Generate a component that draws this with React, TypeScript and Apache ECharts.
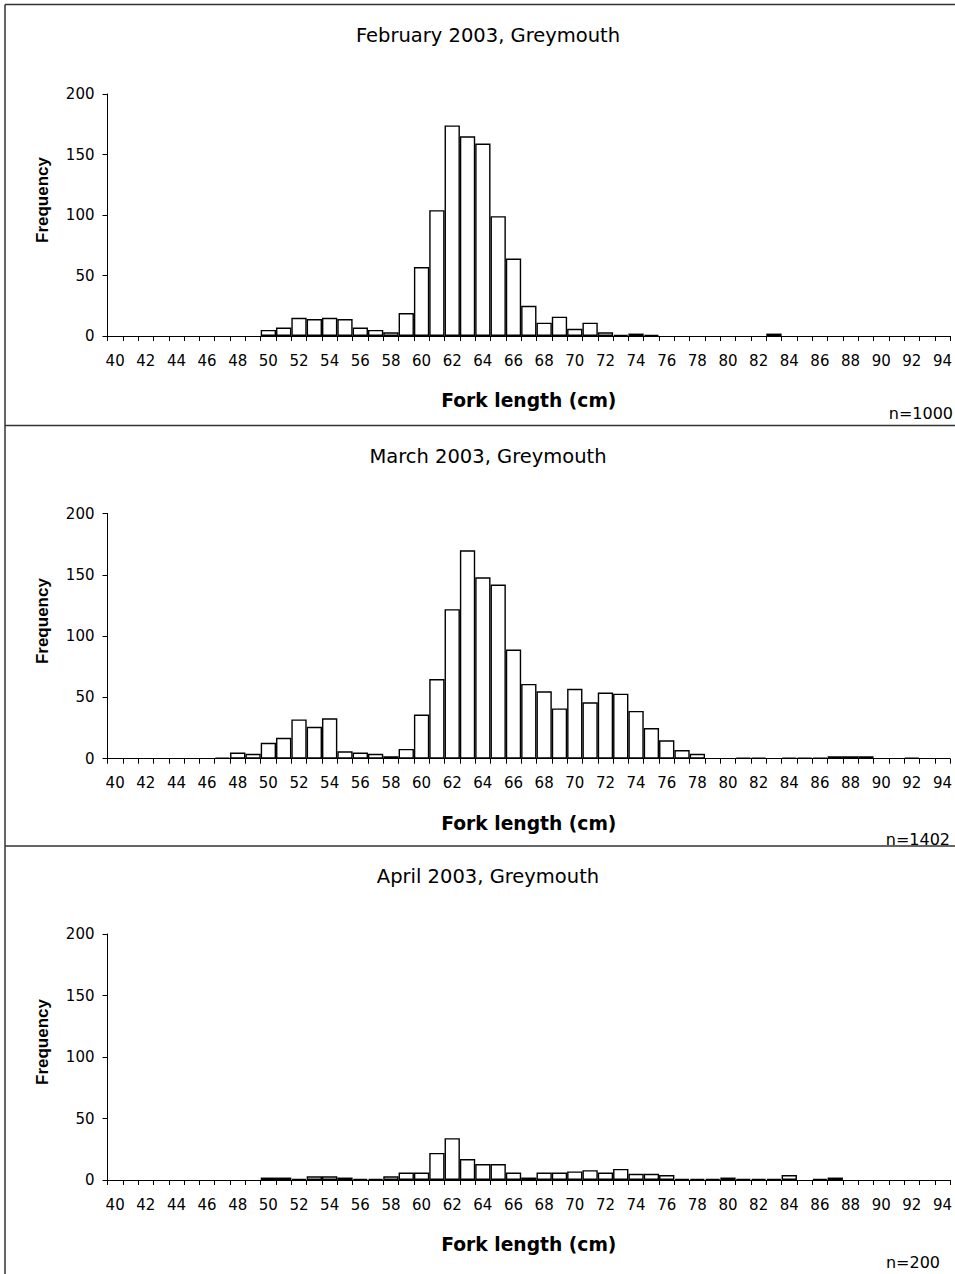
import React, { useEffect, useRef } from "react";
import * as echarts from "echarts";

// Fork length classes (cm)
const lengths = [
  "40","41","42","43","44","45","46","47","48","49",
  "50","51","52","53","54","55","56","57","58","59",
  "60","61","62","63","64","65","66","67","68","69",
  "70","71","72","73","74","75","76","77","78","79",
  "80","81","82","83","84","85","86","87","88","89",
  "90","91","92","93","94",
];

// February 2003, Greymouth (n=1000)
const febCounts = [
  0, 0, 0, 0, 0, 0, 0, 0, 0, 0,
  5, 7, 15, 14, 15, 14, 7, 5, 3, 19,
  57, 104, 174, 165, 159, 99, 64, 25, 11, 16,
  6, 11, 3, 1, 2, 1, 0, 0, 0, 0,
  0, 0, 0, 2, 0, 0, 0, 0, 0, 0,
  0, 0, 0, 0, 0,
];

// March 2003, Greymouth (n=1402)
const marCounts = [
  0, 0, 0, 0, 0, 0, 0, 1, 5, 4,
  13, 17, 32, 26, 33, 6, 5, 4, 2, 8,
  36, 65, 122, 170, 148, 142, 89, 61, 55, 41,
  57, 46, 54, 53, 39, 25, 15, 7, 4, 0,
  0, 1, 1, 0, 1, 1, 1, 2, 2, 2,
  0, 0, 1, 0, 0,
];

// April 2003, Greymouth (n=200)
const aprCounts = [
  0, 0, 0, 0, 0, 0, 0, 0, 0, 0,
  2, 2, 1, 3, 3, 2, 1, 1, 3, 6,
  6, 22, 34, 17, 13, 13, 6, 2, 6, 6,
  7, 8, 6, 9, 5, 5, 4, 1, 1, 1,
  2, 1, 1, 1, 4, 0, 1, 2, 0, 0,
  0, 0, 0, 0, 0,
];

const panelTitles = [
  "February 2003, Greymouth",
  "March 2003, Greymouth",
  "April 2003, Greymouth",
];
const sampleSizes = ["n=1000", "n=1402", "n=200"];
const yMin = 0;
const yMax = 200;
const yStep = 50;
const xAxisTitle = "Fork length (cm)";
const yAxisTitle = "Frequency";

const seriesData = [febCounts, marCounts, aprCounts];

// layout
const W = 955;
const H = 1274;
const gridTops = [94, 513.5, 934];
const gridHeights = [242, 245.2, 246];
const titleCenters = [35, 456, 876];
const nLabelPos = [
  [953, 413],
  [950, 839],
  [940, 1262],
];
const borderX = 5;
const borderTop = 4.5;
const separators = [425.5, 846];

export default function App() {
  const ref = useRef<HTMLDivElement>(null);

  useEffect(() => {
    if (!ref.current) return;
    const chart = echarts.init(ref.current, undefined, { renderer: "svg" });

    const tickFont = "DejaVu Sans";
    const grid = gridTops.map((t, i) => ({
      left: 107.5,
      right: 2,
      top: t,
      height: gridHeights[i],
      containLabel: false,
    }));

    const xAxis = gridTops.map((_, i) => ({
      type: "category",
      gridIndex: i,
      data: lengths,
      boundaryGap: true,
      axisLine: { show: true, lineStyle: { color: "#000", width: 1 } },
      axisTick: { show: true, interval: 0, length: 5, lineStyle: { color: "#000" } },
      axisLabel: {
        interval: 1,
        margin: 17,
        color: "#000",
        fontFamily: tickFont,
        fontSize: 15,
      },
      splitLine: { show: false },
      name: xAxisTitle,
      nameLocation: "middle",
      nameGap: 55,
      nameTextStyle: {
        color: "#000",
        fontFamily: "DejaVu Sans",
        fontWeight: "bold",
        fontSize: 18.7,
      },
    }));

    const yAxis = gridTops.map((_, i) => ({
      type: "value",
      gridIndex: i,
      min: yMin,
      max: yMax,
      interval: yStep,
      axisLine: { show: true, lineStyle: { color: "#000", width: 1 } },
      axisTick: { show: true, length: 5, lineStyle: { color: "#000" } },
      axisLabel: {
        margin: 13,
        color: "#000",
        fontFamily: tickFont,
        fontSize: 15,
      },
      splitLine: { show: false },
      name: yAxisTitle,
      nameLocation: "middle",
      nameRotate: 90,
      nameGap: 57,
      nameTextStyle: {
        color: "#000",
        fontFamily: "Liberation Sans",
        fontWeight: "bold",
        fontSize: 17,
        padding: [0, 0, 0, 30],
      },
    }));

    const series = seriesData.map((d, i) => ({
      type: "bar",
      xAxisIndex: i,
      yAxisIndex: i,
      data: d.map((v) => (v === 0 ? "-" : v)),
      barCategoryGap: "0%",
      itemStyle: { color: "#fff", borderColor: "#000", borderWidth: 1.4 },
      silent: true,
    }));

    const title = panelTitles.map((t, i) => ({
      text: t,
      left: 488,
      textAlign: "center",
      top: titleCenters[i] - 10,
      padding: 0,
      textStyle: {
        color: "#000",
        fontFamily: "DejaVu Sans",
        fontWeight: "normal",
        fontSize: 19.5,
      },
    }));

    const lineStyle = { stroke: "#333", lineWidth: 1.5 };
    const graphic: any[] = [
      {
        type: "line",
        shape: { x1: borderX, y1: borderTop, x2: W, y2: borderTop },
        style: lineStyle,
        z: 100,
      },
      {
        type: "line",
        shape: { x1: borderX, y1: borderTop, x2: borderX, y2: H },
        style: lineStyle,
        z: 100,
      },
      ...separators.map((y) => ({
        type: "line",
        shape: { x1: borderX, y1: y, x2: W, y2: y },
        style: lineStyle,
        z: 100,
      })),
      ...sampleSizes.map((s, i) => ({
        type: "text",
        x: nLabelPos[i][0],
        y: nLabelPos[i][1],
        style: {
          text: s,
          fill: "#000",
          font: "16px 'DejaVu Sans'",
          align: "right",
          verticalAlign: "middle",
        },
        z: 50,
      })),
    ];

    chart.setOption({
      animation: false,
      backgroundColor: "#fff",
      title,
      grid,
      xAxis,
      yAxis,
      series,
      graphic,
    });

    return () => chart.dispose();
  }, []);

  return (
    <div
      ref={ref}
      style={{ position: "absolute", left: 0, top: 0, width: W, height: H }}
    />
  );
}
